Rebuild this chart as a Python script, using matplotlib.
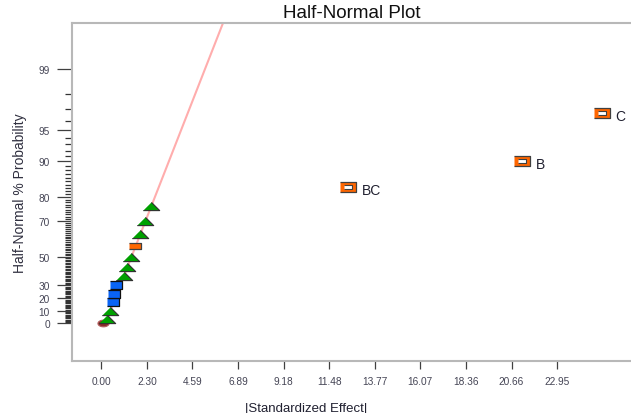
import numpy as np
import matplotlib.pyplot as plt
from statistics import NormalDist

plt.rcParams["font.family"] = ["Liberation Sans", "DejaVu Sans"]

# effects (|standardized effect|, half-normal %)
tri_effect = [0.27, 0.44, 1.16, 1.31, 1.48, 1.95, 2.20, 2.50]
tri_prob = [3.3, 10.0, 36.7, 43.3, 50.0, 63.3, 70.0, 76.7]
blue_effect = [0.60, 0.65, 0.74]
blue_prob = [16.7, 23.3, 30.0]
orange_effect = [1.70]
orange_prob = [56.7]
big_labels = ["BC", "B", "C"]
big_effect = [12.42, 21.20, 25.20]
big_prob = [83.3, 90.0, 96.7]
origin_effect = [0.10]
origin_prob = [0.0]
line_effect = [0.21, 6.61]
line_prob = [0.0, 99.9]

ytick_prob = [0, 10, 20, 30, 50, 70, 80, 90, 95, 99]
xtick_vals = [0.0, 2.295, 4.59, 6.885, 9.18, 11.475, 13.77, 16.065, 18.36, 20.655, 22.95]
xtick_labels = ["0.00", "2.30", "4.59", "6.89", "9.18", "11.48", "13.77", "16.07", "18.36", "20.66", "22.95"]


def hn(p):
    # half-normal percent -> quantile position
    return np.array([NormalDist().inv_cdf(0.5 + v / 200.0) for v in np.atleast_1d(p)])


tri_m = [(-1, -0.5), (1, -0.5), (0, 0.5)]
blue_m = [(-1, -0.7), (1, -0.7), (1, 0.7), (-1, 0.7)]
orng_m = [(-1, -0.52), (1, -0.52), (1, 0.52), (-1, 0.52)]
big_m = [(-1, -0.57), (1, -0.57), (1, 0.57), (-1, 0.57)]
t = np.linspace(0, 2 * np.pi, 40)
ell_m = list(zip(np.cos(t), 0.6 * np.sin(t)))

fig = plt.figure(figsize=(6.31, 4.14), dpi=100)
ax = fig.add_axes([0.1141, 0.1256, 0.8859, 0.8164])

ax.plot(line_effect, hn(line_prob), color="#ffadad", lw=1.5, zorder=1)
ax.plot(origin_effect, hn(origin_prob), ls="none", marker=ell_m, ms=8, mfc="#8c2a2a", mec="#b06060", mew=0.8, zorder=2)
ax.plot(tri_effect, hn(tri_prob), ls="none", marker=tri_m, ms=11.8, mfc="#00a000", mec="#303030", mew=0.8, zorder=3)
ax.plot(blue_effect, hn(blue_prob), ls="none", marker=blue_m, ms=8.2, mfc="#0a64f5", mec="#101010", mew=0.9, zorder=3)
ax.plot(orange_effect, hn(orange_prob), ls="none", marker=orng_m, ms=8.6, mfc="#ff6600", mec="#404040", mew=0.9, zorder=3)
ax.plot(big_effect, hn(big_prob), ls="none", marker=big_m, ms=11.5, mfc="#ff6600", mec="#404040", mew=0.9, zorder=3)
ax.plot(big_effect, hn(big_prob), ls="none", marker=big_m, ms=5.4, mfc="white", mec="#404040", mew=0.8, zorder=4)

for lab, x, y in zip(big_labels, big_effect, hn(big_prob)):
    ax.annotate(lab, (x, y), xytext=(10, -2), textcoords="offset points",
                ha="left", va="center", fontsize=10, color="#202030")

ax.set_xlim(-1.475, 26.67)
ax.set_ylim(-0.382, 3.043)

ax.set_xticks(xtick_vals)
ax.set_xticklabels(xtick_labels)
ax.set_yticks(hn(ytick_prob))
ax.set_yticklabels([str(v) for v in ytick_prob])
minor = [v for v in range(1, 99) if v not in ytick_prob]
ax.set_yticks(hn(minor), minor=True)

ax.tick_params(axis="y", which="major", length=11, width=0.9, color="#404040", pad=5, labelsize=7.3, labelcolor="#454555")
ax.tick_params(axis="y", which="minor", length=5, width=0.9, color="#333333")
ax.tick_params(axis="x", which="major", length=6, width=0.9, color="#404040", pad=5, labelsize=7.3, labelcolor="#454555")

for s in ["top", "left", "bottom"]:
    ax.spines[s].set_color("#b8b8b8")
    ax.spines[s].set_linewidth(1.5)
ax.spines["right"].set_visible(False)

ax.set_title("Half-Normal Plot", fontsize=13.5, color="#101010", pad=4.5)
ax.set_xlabel("|Standardized Effect|", fontsize=9.5, color="#202030")
ax.xaxis.set_label_coords(0.419, -0.121)
ax.set_ylabel("Half-Normal % Probability", fontsize=10, color="#303040")
ax.yaxis.set_label_coords(-0.08, 0.5)

fig.savefig("out.png", dpi=100)
